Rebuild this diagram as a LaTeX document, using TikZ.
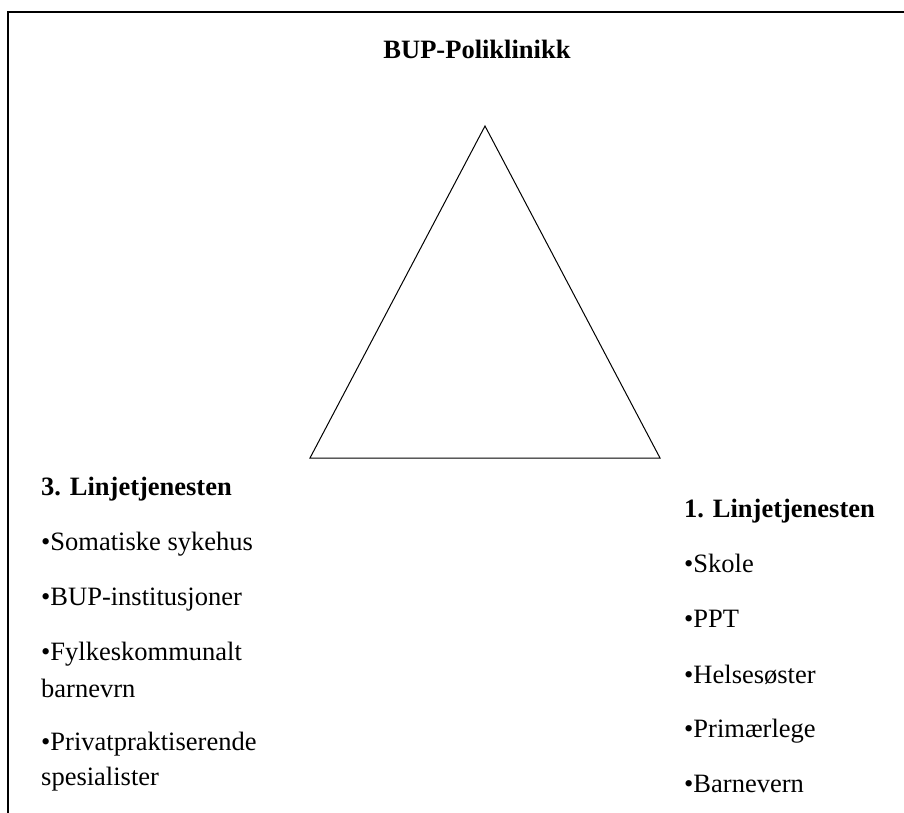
\documentclass[tikz,border=0pt]{standalone}
\usepackage{fontspec}
\setmainfont{Liberation Serif}
\tikzset{
  frameline/.style={line width=1.6pt, black},
  triline/.style={line width=1pt, black, line join=miter},
  txt/.style={anchor=base west, inner sep=0pt, font=\fontsize{26.5}{30}\selectfont},
  head/.style={txt, font=\fontsize{26.5}{30}\selectfont\bfseries},
}
\begin{document}
\begin{tikzpicture}[x=1pt, y=-1pt]
\useasboundingbox (0,0) rectangle (904,813);
% frame (top and left edges)
\coordinate (fbl) at (8,813);
\coordinate (ftl) at (8,12);
\coordinate (ftr) at (904,12);
\draw[frameline] (fbl) -- (ftl) -- (ftr);

% title
\node[head, anchor=base] (title) at (477,59) {BUP-Poliklinikk};

% triangle
\coordinate (apex) at (485,126);
\coordinate (bl) at (310,458);
\coordinate (br) at (660,458);
\draw[triline] (apex) -- (bl) -- (br) -- cycle;

% left column
\node[head] (l0) at (41,495) {3. Linjetjenesten};
\node[txt] (l1) at (41,550) {•Somatiske sykehus};
\node[txt] (l2) at (41,605) {•BUP-institusjoner};
\node[txt] (l3) at (41,660) {•Fylkeskommunalt};
\node[txt] (l3b) at (41,697) {barnevrn};
\node[txt] (l4) at (41,750) {•Privatpraktiserende};
\node[txt] (l4b) at (41,785) {spesialister};

% right column
\node[head] (r0) at (684,517) {1. Linjetjenesten};
\node[txt] (r1) at (684,572) {•Skole};
\node[txt] (r2) at (684,627) {•PPT};
\node[txt] (r3) at (684,683) {•Helsesøster};
\node[txt] (r4) at (684,737) {•Primærlege};
\node[txt] (r5) at (684,792) {•Barnevern};
\end{tikzpicture}
\end{document}
